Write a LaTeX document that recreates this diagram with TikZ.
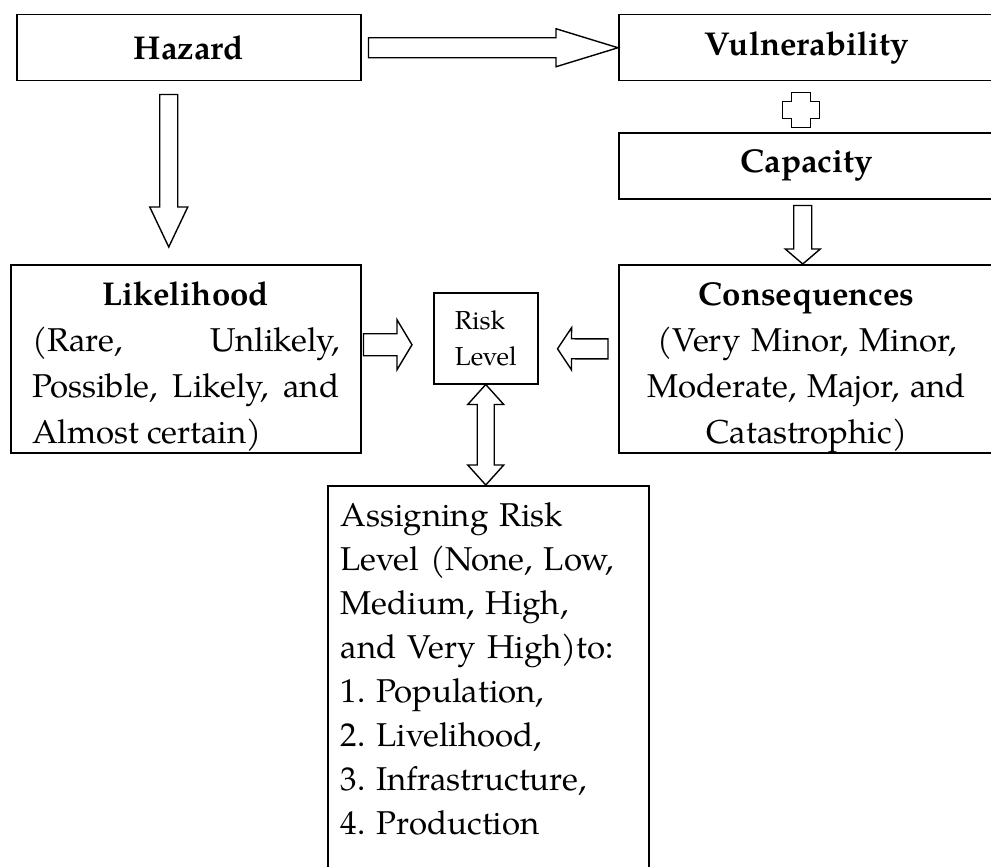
\documentclass[tikz,border=0pt]{standalone}
\usepackage{fontspec}
\setmainfont{texgyrepagella}[Extension=.otf, UprightFont=*-regular, BoldFont=*-bold, ItalicFont=*-italic, BoldItalicFont=*-bolditalic]
\usepackage{tikz}
\usetikzlibrary{positioning, calc}
\setlength{\parindent}{0pt}
\frenchspacing
\newcommand{\topgap}[1]{\rule{0pt}{#1}}
\newcommand{\botgap}[1]{\rule[-#1]{0pt}{#1}}
\tikzset{x=1pt, y=-1pt,
  box/.style={draw, line width=1.5pt, inner ysep=0pt, anchor=north west, font=\fontsize{33}{46}\selectfont},
  block/.style n args={3}{line width=1.4pt, to path={
    let \p1=(\tikztostart), \p2=(\tikztotarget),
        \n1={veclen(\x2-\x1,\y2-\y1)},
        \n2={(\x2-\x1)/\n1}, \n3={(\y2-\y1)/\n1} in
    ({\x1-#1*\n3},{\y1+#1*\n2})
    -- ({\x2-#3*\n2-#1*\n3},{\y2-#3*\n3+#1*\n2})
    -- ({\x2-#3*\n2-#2*\n3},{\y2-#3*\n3+#2*\n2})
    -- (\p2)
    -- ({\x2-#3*\n2+#2*\n3},{\y2-#3*\n3-#2*\n2})
    -- ({\x2-#3*\n2+#1*\n3},{\y2-#3*\n3-#1*\n2})
    -- ({\x1+#1*\n3},{\y1-#1*\n2}) -- cycle}},
  dblock/.style n args={3}{line width=1.4pt, to path={
    let \p1=(\tikztostart), \p2=(\tikztotarget),
        \n1={veclen(\x2-\x1,\y2-\y1)},
        \n2={(\x2-\x1)/\n1}, \n3={(\y2-\y1)/\n1} in
    (\p1)
    -- ({\x1+#3*\n2-#2*\n3},{\y1+#3*\n3+#2*\n2})
    -- ({\x1+#3*\n2-#1*\n3},{\y1+#3*\n3+#1*\n2})
    -- ({\x2-#3*\n2-#1*\n3},{\y2-#3*\n3+#1*\n2})
    -- ({\x2-#3*\n2-#2*\n3},{\y2-#3*\n3+#2*\n2})
    -- (\p2)
    -- ({\x2-#3*\n2+#2*\n3},{\y2-#3*\n3-#2*\n2})
    -- ({\x2-#3*\n2+#1*\n3},{\y2-#3*\n3-#1*\n2})
    -- ({\x1+#3*\n2+#1*\n3},{\y1+#3*\n3-#1*\n2})
    -- ({\x1+#3*\n2+#2*\n3},{\y1+#3*\n3-#2*\n2})
    -- cycle}},
}

\begin{document}
\begin{tikzpicture}
	\useasboundingbox (0,0) rectangle (991,867);
	\node[box, minimum width=344pt, minimum height=66pt] (hazard) at (16,14) {\textbf{Hazard}};
	\node[box, minimum width=376pt, minimum height=66pt] (vuln) at (618,14) {\textbf{Vulnerability}};
	\node[box, minimum width=376pt, minimum height=66pt] (capacity) at (618,132) {\textbf{Capacity}};
	\node[box, minimum width=350pt, text width=307pt, align=justify] (likely) at (10,264)
		{\topgap{41pt}\hspace*{\fill}\textbf{Likelihood}\hspace*{\fill}\\
		(Rare,\hfill Unlikely,\\
		Possible,\hfill Likely,\hfill and\\
		Almost certain)\botgap{9pt}};
	\node[box, minimum width=376pt, text width=350pt, align=center] (conseq) at (618,264)
		{\topgap{41pt}\textbf{Consequences}\\
		(Very Minor, Minor,\\
		Moderate, Major, and\\
		Catastrophic)\botgap{9pt}};
	\node[box, minimum width=104pt, minimum height=91pt, align=left, font=\fontsize{26}{36}\selectfont] (risk) at (433,292) {Risk\\Level};
	\node[box, minimum width=321pt, text width=295pt, align=left, font=\fontsize{33}{44}\selectfont] (assign) at (327,485)
		{\topgap{41pt}Assigning Risk\\
		Level (None, Low,\\
		Medium, High,\\
		and Very High)to:\\
		1. Population,\\
		2. Livelihood,\\
		3. Infrastructure,\\
		4. Production\botgap{60pt}};
	\coordinate (plus) at ($(vuln.south)!0.5!(capacity.north)+(-6,3.5)$);
	\draw[line width=1.4pt, shift={(plus)}] (-9.5,-17.5) -| (9.5,-8.5) -| (18.5,8.5) -| (9.5,17.5) -| (-9.5,8.5) -| (-18.5,-8.5) -| (-9.5,-17.5) -- cycle;
	\draw[block={10}{19}{62}] ($(hazard.east)+(7,0)$) to (vuln.west);
	\draw[block={9}{19}{40}] ($(hazard.south)+(-20,13)$) to ($(likely.north)+(-17,-17)$);
	\draw[block={9}{17.5}{15}] ($(capacity.south)+(-4,6)$) to ($(conseq.north)+(-4,0)$);
	\draw[block={11}{25}{15}] ($(likely.east)+(2,-14)$) to ($(risk.west)+(-21,6.5)$);
	\draw[block={10}{21}{14}] ($(conseq.west)+(-10,-10)$) to ($(risk.east)+(19,10.5)$);
	\draw[dblock={8.5}{18}{20}] (risk.south) to (risk.south |- assign.north);
\end{tikzpicture}
\end{document}
